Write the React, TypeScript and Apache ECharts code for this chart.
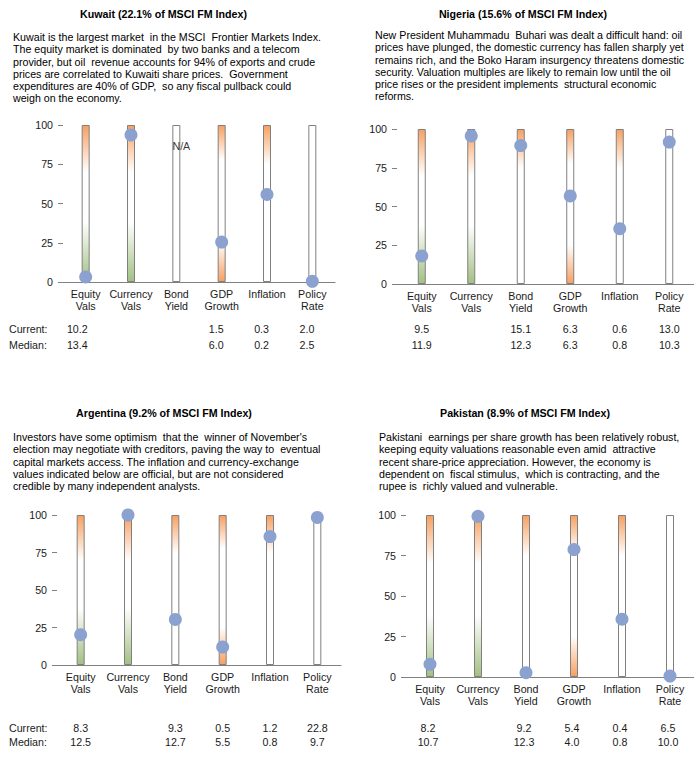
import React, { useEffect, useRef } from "react";
import * as echarts from "echarts";

const categories = ["Equity\nVals", "Currency\nVals", "Bond\nYield", "GDP\nGrowth", "Inflation", "Policy\nRate"];
const rangeMax = [100, 100, 100, 100, 100, 100];
const yTicks = { min: 0, max: 100, interval: 25 };

const kuwaitPct = [3.2, 93.7, null, 25.4, 55.8, 0.4];
const nigeriaPct = [18.1, 95.5, 89.3, 56.8, 35.7, 91.6];
const argentinaPct = [20.2, 100, 30.4, 12, 85.6, 98.4];
const pakistanPct = [7.8, 99.2, 2.7, 78.7, 35.7, 0.6];

const kuwaitFill = ["val", "val", "none", "both", "high", "none"];
const nigeriaFill = ["val", "val", "high", "both", "high", "none"];
const argentinaFill = ["val", "val", "high", "both", "high", "none"];
const pakistanFill = ["val", "val", "high", "both", "high", "none"];

const kuwaitCurrent = ["10.2", "", "", "1.5", "0.3", "2.0"];
const kuwaitMedian = ["13.4", "", "", "6.0", "0.2", "2.5"];
const nigeriaCurrent = ["9.5", "", "15.1", "6.3", "0.6", "13.0"];
const nigeriaMedian = ["11.9", "", "12.3", "6.3", "0.8", "10.3"];
const argentinaCurrent = ["8.3", "", "9.3", "0.5", "1.2", "22.8"];
const argentinaMedian = ["12.5", "", "12.7", "5.5", "0.8", "9.7"];
const pakistanCurrent = ["8.2", "", "9.2", "5.4", "0.4", "6.5"];
const pakistanMedian = ["10.7", "", "12.3", "4.0", "0.8", "10.0"];

const kuwaitNA = [[2, 86.5]];

const kuwaitTitle = "Kuwait (22.1% of MSCI FM Index)";
const nigeriaTitle = "Nigeria (15.6% of MSCI FM Index)";
const argentinaTitle = "Argentina (9.2% of MSCI FM Index)";
const pakistanTitle = "Pakistan (8.9% of MSCI FM Index)";

const kuwaitText = [
  "Kuwait is the largest market  in the MSCI  Frontier Markets Index.",
  "The equity market is dominated  by two banks and a telecom",
  "provider, but oil  revenue accounts for 94% of exports and crude",
  "prices are correlated to Kuwaiti share prices.  Government",
  "expenditures are 40% of GDP,  so any fiscal pullback could",
  "weigh on the economy.",
];
const nigeriaText = [
  "New President Muhammadu  Buhari was dealt a difficult hand: oil",
  "prices have plunged, the domestic currency has fallen sharply yet",
  "remains rich, and the Boko Haram insurgency threatens domestic",
  "security. Valuation multiples are likely to remain low until the oil",
  "price rises or the president implements  structural economic",
  "reforms.",
];
const argentinaText = [
  "Investors have some optimism  that the  winner of November's",
  "election may negotiate with creditors, paving the way to  eventual",
  "capital markets access. The inflation and currency-exchange",
  "values indicated below are official, but are not considered",
  "credible by many independent analysts.",
];
const pakistanText = [
  "Pakistani  earnings per share growth has been relatively robust,",
  "keeping equity valuations reasonable even amid  attractive",
  "recent share-price appreciation. However, the economy is",
  "dependent on  fiscal stimulus,  which is contracting, and the",
  "rupee is  richly valued and vulnerable.",
];

const FONT = "'Liberation Sans', Arial, sans-serif";
const FS = 10.67;
const TXT = "#1a1a1a";
const ORANGE = "#F7A060";
const GREEN = "#A2C083";
const WHITE = "#FFFFFF";
const DOT = "#8BA2D0";
const GRAY = "#808080";

function fillFor(kind: string) {
  const stops: Record<string, [number, string][]> = {
    val: [[0, ORANGE], [0.3, WHITE], [0.62, WHITE], [1, GREEN]],
    high: [[0, ORANGE], [0.25, WHITE], [1, WHITE]],
    both: [[0, ORANGE], [0.22, WHITE], [0.75, WHITE], [1, ORANGE]],
    none: [[0, WHITE], [1, WHITE]],
  };
  return {
    type: "linear", x: 0, y: 0, x2: 0, y2: 1,
    colorStops: stops[kind].map(([o, c]) => ({ offset: o, color: c })),
  };
}

const panels = [
  { grid: { left: 63, top: 125, width: 272, height: 157 }, pct: kuwaitPct, fill: kuwaitFill, cur: kuwaitCurrent, med: kuwaitMedian, curM: 41, medM: 57, valAlign: "right", valOffset: 2,
    title: kuwaitTitle, titleX: 163.5, titleY: 14, text: kuwaitText, textX: 13, textY: 31, rowLabels: true, rowY: [329, 345] },
  { grid: { left: 397, top: 129, width: 297, height: 155 }, pct: nigeriaPct, fill: nigeriaFill, cur: nigeriaCurrent, med: nigeriaMedian, curM: 39, medM: 55, valAlign: "center", valOffset: 0,
    title: nigeriaTitle, titleX: 523, titleY: 14, text: nigeriaText, textX: 375, textY: 29, rowLabels: false, rowY: [] },
  { grid: { left: 57, top: 515, width: 284, height: 150 }, pct: argentinaPct, fill: argentinaFill, cur: argentinaCurrent, med: argentinaMedian, curM: 57, medM: 71, valAlign: "center", valOffset: 0,
    title: argentinaTitle, titleX: 164, titleY: 413, text: argentinaText, textX: 13, textY: 431, rowLabels: true, rowY: [728, 742] },
  { grid: { left: 406, top: 515, width: 288, height: 162 }, pct: pakistanPct, fill: pakistanFill, cur: pakistanCurrent, med: pakistanMedian, curM: 45, medM: 59, valAlign: "center", valOffset: -2,
    title: pakistanTitle, titleX: 525, titleY: 413, text: pakistanText, textX: 379, textY: 431, rowLabels: false, rowY: [] },
];

export default function App() {
  const ref = useRef<HTMLDivElement>(null);
  useEffect(() => {
    document.body.style.margin = "0";
    const chart = echarts.init(ref.current!, null, { renderer: "svg" });
    const grid: any[] = [];
    const xAxis: any[] = [];
    const yAxis: any[] = [];
    const series: any[] = [];
    const graphic: any[] = [];

    panels.forEach((p, i) => {
      grid.push({ ...p.grid });
      grid.push({ ...p.grid, left: p.grid.left + p.valOffset });
      grid.push({ ...p.grid, left: p.grid.left + p.valOffset });
      const g = i * 3;
      xAxis.push({
        type: "category", gridIndex: g, data: categories,
        axisLine: { show: true, lineStyle: { color: GRAY, width: 1 } },
        axisTick: { show: false },
        axisLabel: { fontFamily: FONT, fontSize: FS, color: TXT, margin: 6, lineHeight: 12, interval: 0 },
      });
      xAxis.push({
        type: "category", gridIndex: g + 1, data: p.cur,
        axisLine: { show: false }, axisTick: { show: false },
        axisLabel: { fontFamily: FONT, fontSize: FS, color: TXT, margin: p.curM, interval: 0, align: p.valAlign },
      });
      xAxis.push({
        type: "category", gridIndex: g + 2, data: p.med,
        axisLine: { show: false }, axisTick: { show: false },
        axisLabel: { fontFamily: FONT, fontSize: FS, color: TXT, margin: p.medM, interval: 0, align: p.valAlign },
      });
      yAxis.push({
        type: "value", gridIndex: g, ...yTicks,
        axisLine: { show: false },
        axisTick: { show: true, length: 5, lineStyle: { color: GRAY } },
        splitLine: { show: false },
        axisLabel: { fontFamily: FONT, fontSize: FS, color: TXT, margin: 10 },
      });
      yAxis.push({ type: "value", gridIndex: g + 1, show: false, min: 0, max: 100 });
      yAxis.push({ type: "value", gridIndex: g + 2, show: false, min: 0, max: 100 });

      series.push({
        type: "bar", xAxisIndex: g, yAxisIndex: g, barWidth: 8, z: 2,
        data: rangeMax.map((v, k) => ({
          value: v,
          itemStyle: { color: fillFor(p.fill[k]), borderColor: GRAY, borderWidth: 1 },
        })),
      });
      series.push({
        type: "scatter", xAxisIndex: g, yAxisIndex: g, symbolSize: 13, z: 5,
        itemStyle: { color: DOT, opacity: 1 },
        data: p.pct.map((v, k) => (v === null ? null : [k, v])).filter((d) => d !== null),
      });

      graphic.push({
        type: "text", x: p.titleX, y: p.titleY,
        style: { text: p.title, font: `bold ${FS}px ${FONT}`, fill: "#000", textAlign: "center", textVerticalAlign: "middle" },
      });
      graphic.push({
        type: "text", x: p.textX, y: p.textY,
        style: { text: p.text.join("\n"), font: `${FS}px ${FONT}`, fill: "#000", textAlign: "left", textVerticalAlign: "top", lineHeight: 12.2 },
      });
      if (p.rowLabels) {
        graphic.push({ type: "text", x: 9, y: p.rowY[0], style: { text: "Current:", font: `${FS}px ${FONT}`, fill: TXT, textVerticalAlign: "middle" } });
        graphic.push({ type: "text", x: 9, y: p.rowY[1], style: { text: "Median:", font: `${FS}px ${FONT}`, fill: TXT, textVerticalAlign: "middle" } });
      }
    });

    series.push({
      type: "scatter", xAxisIndex: 0, yAxisIndex: 0, symbolSize: 1, z: 6,
      itemStyle: { color: "rgba(0,0,0,0)" },
      label: { show: true, position: "inside", formatter: "N/A", offset: [5, 0], fontFamily: FONT, fontSize: FS, color: "#000" },
      data: kuwaitNA,
    });

    chart.setOption({
      animation: false,
      backgroundColor: "#ffffff",
      grid, xAxis, yAxis, series, graphic,
    });
    return () => chart.dispose();
  }, []);
  return <div ref={ref} style={{ position: "fixed", left: 0, top: 0, width: 694, height: 762, background: "#fff" }} />;
}
